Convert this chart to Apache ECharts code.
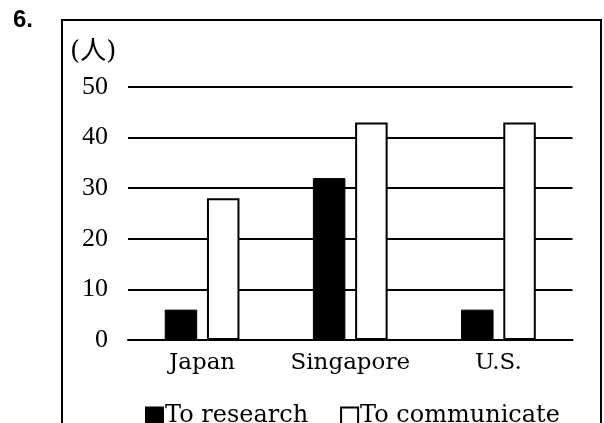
<!DOCTYPE html>
<html>
<head>
<meta charset="utf-8">
<style>
  html, body { margin: 0; padding: 0; background: #fff; }
  #chart { width: 604px; height: 423px; }
</style>
<script src="https://cdn.jsdelivr.net/npm/echarts@6/dist/echarts.min.js"></script>
</head>
<body>
<div id="chart"></div>
<script>
// Survey counts (people) per country
const countries = ['Japan', 'Singapore', 'U.S.'];
const toResearch = [6, 32, 6];
const toCommunicate = [28, 43, 43];
const seriesNames = ['To research', 'To communicate'];
const yTicks = { min: 0, max: 50, step: 10 };

const serif = 'DejaVu Serif, Liberation Serif, serif';
const chart = echarts.init(document.getElementById('chart'), null, { renderer: 'canvas' });

chart.setOption({
  animation: false,
  backgroundColor: '#fff',
  grid: { left: 128, right: 31.5, top: 87, bottom: 83, containLabel: false },
  xAxis: {
    type: 'category',
    data: countries,
    axisLine: { show: true, lineStyle: { color: '#000', width: 2 } },
    axisTick: { show: false },
    axisLabel: { interval: 0, color: '#000', fontFamily: serif, fontSize: 23, margin: 12 }
  },
  yAxis: {
    type: 'value',
    min: yTicks.min,
    max: yTicks.max,
    interval: yTicks.step,
    axisLine: { show: false },
    axisTick: { show: false },
    splitLine: { lineStyle: { color: '#000', width: 2 } },
    axisLabel: { color: '#000', fontFamily: 'Liberation Serif, serif', fontSize: 26, margin: 20 }
  },
  legend: {
    left: 140,
    top: 399,
    itemWidth: 17,
    itemHeight: 17,
    itemGap: 32,
    icon: 'rect',
    textStyle: { color: '#000', fontFamily: serif, fontSize: 24, padding: [0, 0, 0, -3] },
    data: seriesNames
  },
  series: [
    {
      name: seriesNames[0],
      type: 'bar',
      data: toResearch,
      barWidth: 32.5,
      barGap: '30%',
      itemStyle: { color: '#000', borderColor: '#000', borderWidth: 1 }
    },
    {
      name: seriesNames[1],
      type: 'bar',
      data: toCommunicate,
      barWidth: 32.5,
      barGap: '30%',
      itemStyle: { color: '#fff', borderColor: '#000', borderWidth: 2 }
    }
  ],
  graphic: [
    {
      type: 'polyline',
      shape: { points: [[62, 430], [62, 20], [601, 20], [601, 430]] },
      style: { stroke: '#000', lineWidth: 2, fill: null }
    },
    {
      type: 'text',
      left: 13,
      top: 8,
      style: { text: '6.', fill: '#000', font: 'bold 24px Liberation Sans, Arial, sans-serif' }
    },
    {
      type: 'text',
      left: 70,
      top: 39,
      style: { text: '(人)', fill: '#000', font: '26px DejaVu Serif, Noto Sans CJK JP, serif' }
    }
  ]
});
</script>
</body>
</html>
